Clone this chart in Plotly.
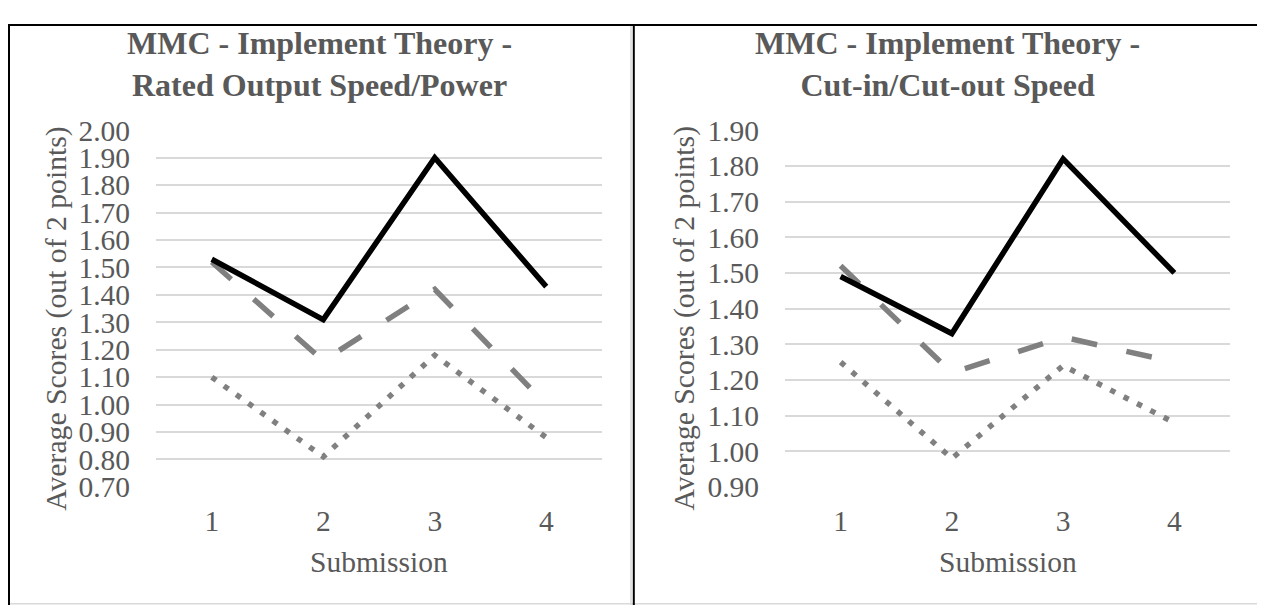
import plotly.graph_objects as go

# ---- data ----
submissions = [1, 2, 3, 4]

left_title = "MMC - Implement Theory -<br>Rated Output Speed/Power"
left_solid = [1.53, 1.31, 1.90, 1.43]
left_dashed = [1.52, 1.16, 1.42, 1.00]
left_dotted = [1.10, 0.81, 1.18, 0.88]
left_ticks = [0.70, 0.80, 0.90, 1.00, 1.10, 1.20, 1.30, 1.40, 1.50, 1.60, 1.70, 1.80, 1.90, 2.00]

right_title = "MMC - Implement Theory -<br>Cut-in/Cut-out Speed"
right_solid = [1.49, 1.33, 1.82, 1.50]
right_dashed = [1.52, 1.22, 1.32, 1.25]
right_dotted = [1.25, 0.98, 1.24, 1.08]
right_ticks = [0.90, 1.00, 1.10, 1.20, 1.30, 1.40, 1.50, 1.60, 1.70, 1.80, 1.90]

y_title = "Average Scores (out of 2 points)"
x_title = "Submission"

# ---- styling ----
W, H = 1265, 613
FONT = "Liberation Serif"
TXT = "#595959"
GRID = "#d9d9d9"
GRAY = "#808080"


# page-pixel -> figure-pixel (compensates the page offset/scaling seen when photographed)
def fxp(x):
    return x - 8.0


def fyp(y):
    return (y - 23.7) / 0.948


def px(x):
    return min(max(fxp(x) / W, 0.0), 1.0)


def py(y):
    return min(max(1 - fyp(y) / H, 0.0), 1.0)


fig = go.Figure()

panels = [
    (left_solid, left_dashed, left_dotted, "x", "y"),
    (right_solid, right_dashed, right_dotted, "x2", "y2"),
]
for solid, dashed, dotted, xa, ya in panels:
    fig.add_trace(go.Scatter(x=submissions, y=dotted, mode="lines", xaxis=xa, yaxis=ya,
                             line=dict(color=GRAY, width=5.5, dash="5.5px,9.5px"),
                             showlegend=False, hoverinfo="skip"))
    fig.add_trace(go.Scatter(x=submissions, y=dashed, mode="lines", xaxis=xa, yaxis=ya,
                             line=dict(color=GRAY, width=5.5, dash="26px,30px"),
                             showlegend=False, hoverinfo="skip"))
    fig.add_trace(go.Scatter(x=submissions, y=solid, mode="lines", xaxis=xa, yaxis=ya,
                             line=dict(color="black", width=5.5),
                             showlegend=False, hoverinfo="skip"))

ydom = [py(486.7), py(130)]
common_x = dict(range=[0.5, 4.5], tickvals=submissions, showgrid=False, zeroline=False,
                showline=False, ticks="", ticklabelstandoff=14,
                tickfont=dict(family=FONT, size=29.5, color=TXT), fixedrange=True)
common_y = dict(showgrid=True, gridcolor=GRID, gridwidth=2, zeroline=False, showline=False,
                ticks="", tickformat=".2f", ticklabelstandoff=25,
                tickfont=dict(family=FONT, size=29.5, color=TXT), fixedrange=True)

fig.update_layout(
    width=W, height=H,
    margin=dict(l=0, r=0, t=0, b=0),
    paper_bgcolor="white", plot_bgcolor="white",
    xaxis=dict(domain=[px(156), px(602)], anchor="y", **common_x),
    yaxis=dict(domain=ydom, anchor="x", range=[0.70, 2.00], tickvals=left_ticks, **common_y),
    xaxis2=dict(domain=[px(785), px(1230)], anchor="y2", **common_x),
    yaxis2=dict(domain=ydom, anchor="x2", range=[0.90, 1.90], tickvals=right_ticks, **common_y),
)

annotations = []
for title, cx in [(left_title, 319), (right_title, 947.5)]:
    annotations.append(dict(text="<b>" + title + "</b>", x=px(cx), y=py(64), xref="paper", yref="paper",
                            xanchor="center", yanchor="middle", showarrow=False,
                            font=dict(family=FONT, size=32, color=TXT)))
for cx in [57, 684.7]:
    annotations.append(dict(text=y_title, x=px(cx), y=py(318.5), xref="paper", yref="paper",
                            xanchor="center", yanchor="middle", textangle=-90, showarrow=False,
                            font=dict(family=FONT, size=29.7, color=TXT)))
for cx in [379, 1007.5]:
    annotations.append(dict(text=x_title, x=px(cx), y=py(562), xref="paper", yref="paper",
                            xanchor="center", yanchor="middle", showarrow=False,
                            font=dict(family=FONT, size=29.5, color=TXT)))
fig.update_layout(annotations=annotations)

shapes = []
# light gray chart-area borders
for x in [631, 1259]:
    shapes.append(dict(type="line", xref="paper", yref="paper", x0=px(x), x1=px(x), y0=1, y1=0,
                       line=dict(color=GRID, width=1.5)))
shapes.append(dict(type="line", xref="paper", yref="paper", x0=0, x1=1, y0=1.2 / H, y1=1.2 / H,
                   line=dict(color=GRID, width=1.5)))
# black table borders
shapes.append(dict(type="line", xref="paper", yref="paper", x0=0, x1=1, y0=1 - 1 / H, y1=1 - 1 / H,
                   line=dict(color="black", width=2)))
for x in [1 / W, px(633.8), px(1262)]:
    shapes.append(dict(type="line", xref="paper", yref="paper", x0=x, x1=x, y0=1, y1=0,
                       line=dict(color="black", width=2)))
fig.update_layout(shapes=shapes)

fig.write_html("out.html")
